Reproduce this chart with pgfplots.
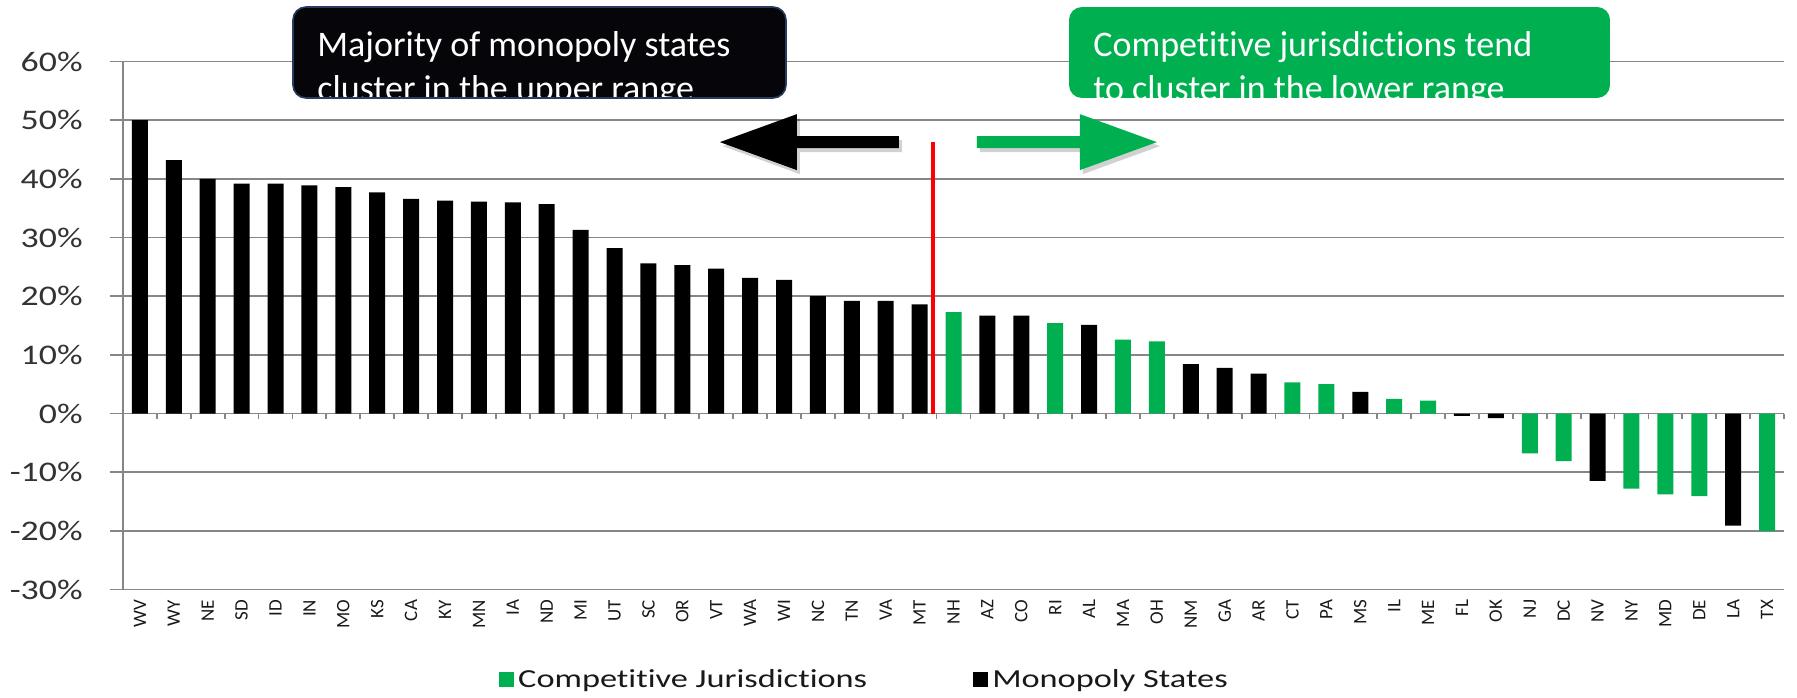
\documentclass[border=0pt]{standalone}
\usepackage{pgfplots}
\pgfplotsset{compat=1.18}
\usepackage{fontspec}
\setmainfont{Carlito}[Ligatures=NoCommon]
\newfontfamily\yfont[FakeStretch=1.26,Ligatures=NoCommon]{Carlito}
\newfontfamily\legfont[FakeStretch=1.32,Ligatures=NoCommon]{Carlito}
\definecolor{xlgreen}{RGB}{0,176,80}
\definecolor{gridc}{RGB}{134,134,134}
\definecolor{boxblack}{RGB}{6,6,10}
\definecolor{boxedge}{RGB}{40,60,95}

\begin{document}
\begin{tikzpicture}
\path[use as bounding box] (-61.5pt,-53.75pt) rectangle (837pt,294.75pt);
\begin{axis}[
  at={(0pt,0pt)}, anchor=south west,
  scale only axis, width=830.5pt, height=264pt,
  xmin=-0.5, xmax=48.5, ymin=-30, ymax=60,
  axis x line*=bottom, axis y line*=left,
  axis line style={gridc, line width=0.9pt, -},
  ymajorgrids, grid style={gridc, line width=0.9pt},
  ytick={-30,-20,...,60},
  yticklabels={-30\%,-20\%,-10\%,0\%,10\%,20\%,30\%,40\%,50\%,60\%},
  yticklabel style={font=\yfont\fontsize{14.2}{16}\selectfont, text=black!80, anchor=east, inner ysep=0pt, inner xsep=20pt},
  xtick={0,...,48},
  xticklabels={WV,WY,NE,SD,ID,IN,MO,KS,CA,KY,MN,IA,ND,MI,UT,SC,OR,VT,WA,WI,NC,TN,VA,MT,NH,AZ,CO,RI,AL,MA,OH,NM,GA,AR,CT,PA,MS,IL,ME,FL,OK,NJ,DC,NV,NY,MD,DE,LA,TX},
  xticklabel style={font=\fontsize{9.5}{11}\selectfont, text=black!90, rotate=90, anchor=east, inner ysep=0pt, inner xsep=5pt},
  major tick length=0pt,
  ybar, bar width=8pt, bar shift=0pt,
  clip=false,
  legend columns=2,
  legend style={draw=none, fill=none, at={(0.447,0)}, anchor=center, yshift=-45pt,
    font=\legfont\fontsize{13}{15}\selectfont, text=black!90,
    /tikz/every even column/.append style={column sep=51pt}},
  legend image code/.code={\draw[#1, draw=none] (0pt,-3.75pt) rectangle (7.5pt,3.75pt);},
]
\addplot[fill=xlgreen, draw=none] coordinates {
  (24,17.3) (27,15.4) (29,12.6) (30,12.3) (34,5.3) (35,5.0) (37,2.5) (38,2.2)
  (41,-6.8) (42,-8.1) (44,-12.8) (45,-13.8) (46,-14.1) (48,-20.0)};
\addlegendentry{Competitive Jurisdictions}
\addplot[fill=black, draw=none] coordinates {
  (0,50.0) (1,43.2) (2,40.0) (3,39.2) (4,39.2) (5,38.9) (6,38.6) (7,37.7)
  (8,36.6) (9,36.3) (10,36.1) (11,36.0) (12,35.7) (13,31.3) (14,28.2) (15,25.6)
  (16,25.3) (17,24.7) (18,23.1) (19,22.8) (20,20.0) (21,19.2) (22,19.2) (23,18.6)
  (25,16.7) (26,16.7) (28,15.1) (31,8.4) (32,7.8) (33,6.8) (36,3.7)
  (39,-0.4) (40,-0.8) (43,-11.5) (47,-19.1)};
\addlegendentry{Monopoly States}

\pgfplotsinvokeforeach{-0.5,0.5,...,48.5}{
  \draw[gridc, line width=0.9pt] (axis cs:#1,0) -- ++(0pt,-2.5pt);
}
\pgfplotsinvokeforeach{-30,-20,...,60}{
  \draw[gridc, line width=0.9pt] (axis cs:-0.5,#1) -- ++(-6.5pt,0pt);
}

\draw[red, line width=2.4pt] (axis cs:23.395,0) -- (axis cs:23.395,46.26);

% shadows
\fill[black, opacity=0.18, xshift=1.5pt, yshift=-2pt]
  (axis cs:17.11,46.26) -- (axis cs:19.38,51.03) -- (axis cs:19.38,47.28) -- (axis cs:22.39,47.28)
  -- (axis cs:22.39,45.24) -- (axis cs:19.38,45.24) -- (axis cs:19.38,41.49) -- cycle;
\fill[black, opacity=0.18, xshift=1.5pt, yshift=-2pt]
  (axis cs:30.0,46.26) -- (axis cs:27.73,51.03) -- (axis cs:27.73,47.28) -- (axis cs:24.69,47.28)
  -- (axis cs:24.69,45.24) -- (axis cs:27.73,45.24) -- (axis cs:27.73,41.49) -- cycle;
% arrows
\fill[black]
  (axis cs:17.11,46.26) -- (axis cs:19.38,51.03) -- (axis cs:19.38,47.28) -- (axis cs:22.39,47.28)
  -- (axis cs:22.39,45.24) -- (axis cs:19.38,45.24) -- (axis cs:19.38,41.49) -- cycle;
\fill[xlgreen]
  (axis cs:30.0,46.26) -- (axis cs:27.73,51.03) -- (axis cs:27.73,47.28) -- (axis cs:24.69,47.28)
  -- (axis cs:24.69,45.24) -- (axis cs:27.73,45.24) -- (axis cs:27.73,41.49) -- cycle;
\end{axis}

% annotation boxes
\begin{scope}
  \clip[rounded corners=6.5pt] (85pt,245.75pt) rectangle (331.5pt,291.25pt);
  \fill[boxblack] (85pt,245.75pt) rectangle (331.5pt,291.25pt);
  \node[anchor=base west, inner sep=0pt, text=white, font=\fontsize{18}{22}\selectfont] at (97pt,266.25pt) {Majority of monopoly states};
  \node[anchor=base west, inner sep=0pt, text=white, font=\fontsize{18}{22}\selectfont] at (97pt,244.25pt) {cluster in the upper range};
\end{scope}
\draw[boxedge, line width=0.8pt, rounded corners=6.5pt] (85pt,245.75pt) rectangle (331.5pt,291.25pt);

\begin{scope}
  \clip[rounded corners=6.5pt] (473pt,245.75pt) rectangle (743.5pt,291.25pt);
  \fill[xlgreen] (473pt,245.75pt) rectangle (743.5pt,291.25pt);
  \node[anchor=base west, inner sep=0pt, text=white, font=\fontsize{18}{22}\selectfont] at (485pt,266.25pt) {Competitive jurisdictions tend};
  \node[anchor=base west, inner sep=0pt, text=white, font=\fontsize{18}{22}\selectfont] at (485pt,244.25pt) {to cluster in the lower range};
\end{scope}
\end{tikzpicture}
\end{document}
